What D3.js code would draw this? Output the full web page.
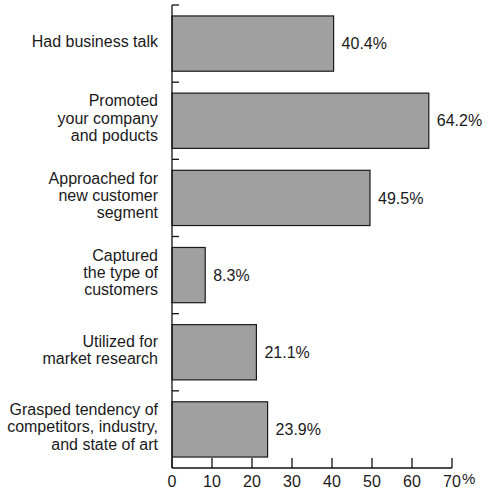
<!DOCTYPE html>
<html>
<head>
<meta charset="utf-8">
<script src="https://cdn.jsdelivr.net/npm/d3@7"></script>
<style>
  html, body { margin: 0; padding: 0; background: #fff; }
  svg { display: block; font-family: "Liberation Sans", Arial, sans-serif; }
</style>
</head>
<body>
<svg id="chart" width="497" height="492"></svg>
<script>
const categories = [
  ["Had business talk"],
  ["Promoted", "your company", "and poducts"],
  ["Approached for", "new customer", "segment"],
  ["Captured", "the type of", "customers"],
  ["Utilized for", "market research"],
  ["Grasped tendency of", "competitors, industry,", "and state of art"]
];
const values = [40.4, 64.2, 49.5, 8.3, 21.1, 23.9];
const xTicks = [0, 10, 20, 30, 40, 50, 60, 70];

const svg = d3.select("#chart");
const x = d3.scaleLinear().domain([0, 70]).range([172, 452]);
const ids = categories.map((c, i) => i);
const y = d3.scaleBand().domain(ids).range([5, 468]).padding(0);
const bw = y.bandwidth();
const padFrac = 0.142;

// bars
svg.append("g").selectAll("rect").data(values).join("rect")
  .attr("x", x(0))
  .attr("y", (d, i) => y(i) + bw * padFrac)
  .attr("width", d => x(d) - x(0))
  .attr("height", bw * (1 - 2 * padFrac))
  .attr("fill", "#a0a0a0")
  .attr("stroke", "#1a1a1a")
  .attr("stroke-width", 1.2);

// value labels
svg.append("g").selectAll("text").data(values).join("text")
  .attr("x", d => x(d) + 8)
  .attr("y", (d, i) => y(i) + bw / 2)
  .attr("dy", "0.35em")
  .attr("font-size", 16)
  .attr("fill", "#1a1a1a")
  .text(d => d.toFixed(1) + "%");

// y axis
const yAxis = svg.append("g");
yAxis.append("line")
  .attr("x1", x(0)).attr("x2", x(0))
  .attr("y1", 5).attr("y2", 468)
  .attr("stroke", "#111").attr("stroke-width", 1.3);
yAxis.selectAll("line.tk").data(ids).join("line")
  .attr("class", "tk")
  .attr("x1", x(0)).attr("x2", x(0) + 7)
  .attr("y1", d => y(d)).attr("y2", d => y(d))
  .attr("stroke", "#111").attr("stroke-width", 1.3);

// category labels
const lineH = 17.3;
const catG = svg.append("g").attr("text-anchor", "end").attr("font-size", 16).attr("fill", "#1a1a1a");
categories.forEach((lines, i) => {
  const c = y(i) + bw / 2;
  const n = lines.length;
  lines.forEach((ln, j) => {
    catG.append("text")
      .attr("x", 158)
      .attr("y", c + (j - (n - 1) / 2) * lineH + 3)
      .text(ln);
  });
});

// x axis
const xAxis = svg.append("g");
xAxis.append("line")
  .attr("x1", x(0)).attr("x2", x(70))
  .attr("y1", 468).attr("y2", 468)
  .attr("stroke", "#111").attr("stroke-width", 1.3);
xAxis.selectAll("line.tk").data(xTicks).join("line")
  .attr("class", "tk")
  .attr("x1", d => x(d)).attr("x2", d => x(d))
  .attr("y1", 468).attr("y2", 458)
  .attr("stroke", "#111").attr("stroke-width", 1.3);
xAxis.selectAll("text").data(xTicks).join("text")
  .attr("x", d => x(d))
  .attr("y", 487)
  .attr("text-anchor", "middle")
  .attr("font-size", 16)
  .attr("fill", "#1a1a1a")
  .text(d => d);
xAxis.append("text")
  .attr("x", x(70) + 10)
  .attr("y", 484)
  .attr("font-size", 15)
  .attr("fill", "#1a1a1a")
  .text("%");
</script>
</body>
</html>
